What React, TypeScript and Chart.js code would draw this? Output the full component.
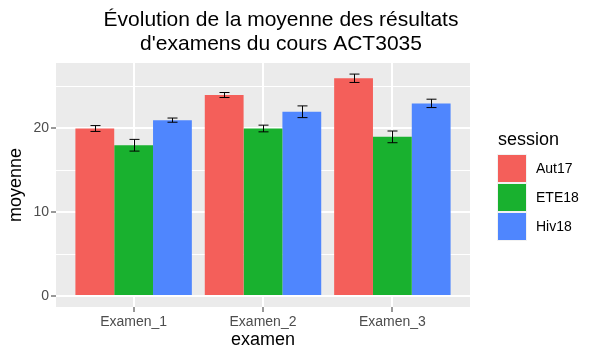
import React, { useEffect, useRef } from 'react';
import { Chart, registerables } from 'chart.js';

Chart.register(...registerables);

const categories = ['Examen_1', 'Examen_2', 'Examen_3'];
const sessions = ['Aut17', 'ETE18', 'Hiv18'];
const aut17 = [20, 24, 26];
const ete18 = [18, 20, 19];
const hiv18 = [21, 22, 23];
const aut17Err = [0.35, 0.3, 0.5];
const ete18Err = [0.7, 0.4, 0.7];
const hiv18Err = [0.25, 0.7, 0.5];
const yLabelTicks = [0, 10, 20];
const titleLines = ['Évolution de la moyenne des résultats', "d'examens du cours ACT3035"];
const legendTitle = 'session';
const xTitle = 'examen';
const yTitle = 'moyenne';
const colors = ['#F45F5A', '#19B12F', '#4F86FE'];

const FONT = '"Liberation Sans", Arial, Helvetica, sans-serif';

const seriesValues = [aut17, ete18, hiv18];
const seriesErrors = [aut17Err, ete18Err, hiv18Err];

const panelPlugin = {
  id: 'panelBg',
  beforeDraw(chart: any) {
    const { ctx, chartArea } = chart;
    ctx.save();
    ctx.fillStyle = '#FFFFFF';
    ctx.fillRect(0, 0, chart.width, chart.height);
    ctx.fillStyle = '#EBEBEB';
    ctx.fillRect(chartArea.left, chartArea.top, chartArea.right - chartArea.left, chartArea.bottom - chartArea.top);
    ctx.restore();
  },
};

const errorBarPlugin = {
  id: 'errorBars',
  afterDatasetsDraw(chart: any) {
    const { ctx } = chart;
    const yScale = chart.scales.y;
    ctx.save();
    ctx.strokeStyle = '#000000';
    ctx.lineWidth = 1;
    chart.data.datasets.forEach((ds: any, d: number) => {
      const meta = chart.getDatasetMeta(d);
      meta.data.forEach((el: any, i: number) => {
        const v = seriesValues[d][i];
        const e = seriesErrors[d][i];
        const x = Math.round(el.x) + 0.5;
        const yt = yScale.getPixelForValue(v + e);
        const yb = yScale.getPixelForValue(v - e);
        const hw = 5;
        ctx.beginPath();
        ctx.moveTo(x, yt);
        ctx.lineTo(x, yb);
        ctx.moveTo(x - hw, yt);
        ctx.lineTo(x + hw, yt);
        ctx.moveTo(x - hw, yb);
        ctx.lineTo(x + hw, yb);
        ctx.stroke();
      });
    });
    ctx.restore();
  },
};

const titleLegendPlugin = {
  id: 'titleLegend',
  afterDraw(chart: any) {
    const { ctx } = chart;
    ctx.save();
    ctx.fillStyle = '#000000';
    ctx.font = `21px ${FONT}`;
    ctx.textAlign = 'center';
    ctx.textBaseline = 'alphabetic';
    ctx.fillText(titleLines[0], 281, 26);
    ctx.fillText(titleLines[1], 281, 50);
    ctx.textAlign = 'left';
    ctx.font = `18px ${FONT}`;
    ctx.fillText(legendTitle, 498, 145);
    ctx.font = `14px ${FONT}`;
    ctx.textBaseline = 'middle';
    chart.data.datasets.forEach((ds: any, i: number) => {
      const top = 155 + 29 * i;
      ctx.fillStyle = '#F2F2F2';
      ctx.fillRect(497, top - 1, 30, 29);
      ctx.fillStyle = ds.backgroundColor;
      ctx.fillRect(498, top, 28, 27);
      ctx.fillStyle = '#000000';
      ctx.fillText(ds.label, 536, top + 14);
    });
    ctx.restore();
  },
};

export default function App() {
  const canvasRef = useRef<HTMLCanvasElement | null>(null);

  useEffect(() => {
    document.body.style.margin = '0';
    const canvas = canvasRef.current;
    if (!canvas) return;
    const datasets = sessions.map((s, d) => ({
      label: s,
      data: seriesValues[d].map((v, i) => ({ x: i + 1, y: v })),
      backgroundColor: colors[d],
      borderWidth: 0,
      categoryPercentage: 0.9,
      barPercentage: 1.0,
    }));
    const chart = new Chart(canvas, {
      type: 'bar',
      data: { datasets },
      plugins: [panelPlugin, errorBarPlugin, titleLegendPlugin],
      options: {
        responsive: false,
        devicePixelRatio: 1,
        animation: false,
        layout: { padding: { top: 63, right: 130, left: 0, bottom: 0 } },
        plugins: {
          legend: { display: false },
          title: { display: false },
          tooltip: { enabled: false },
        },
        scales: {
          x: {
            type: 'linear',
            min: 0.4,
            max: 3.6,
            offset: false,
            afterFit(scale: any) {
              scale.height = 53;
            },
            ticks: {
              stepSize: 1,
              includeBounds: false,
              autoSkip: false,
              maxRotation: 0,
              padding: 2,
              color: '#4D4D4D',
              font: { family: FONT, size: 14 },
              callback: (v: any) => categories[Math.round(Number(v)) - 1] ?? '',
            },
            grid: {
              offset: false,
              color: '#FFFFFF',
              lineWidth: 2,
              tickColor: '#333333',
              tickLength: 5,
              tickWidth: 1,
              drawTicks: true,
            },
            border: { display: false },
            title: {
              display: true,
              text: xTitle,
              color: '#000000',
              font: { family: FONT, size: 18 },
              padding: { top: 0, bottom: 9 },
            },
          },
          y: {
            type: 'linear',
            min: -1.325,
            max: 27.825,
            afterFit(scale: any) {
              scale.width = 56;
            },
            ticks: {
              stepSize: 5,
              includeBounds: false,
              padding: 2,
              color: '#4D4D4D',
              font: { family: FONT, size: 14 },
              callback: (v: any) => (yLabelTicks.includes(Number(v)) ? String(v) : ''),
            },
            grid: {
              color: '#FFFFFF',
              lineWidth: (ctx: any) => (ctx.tick && yLabelTicks.includes(ctx.tick.value) ? 2 : 1),
              tickColor: (ctx: any) => (ctx.tick && yLabelTicks.includes(ctx.tick.value) ? '#333333' : 'rgba(0,0,0,0)'),
              tickLength: 5,
              tickWidth: 1,
            },
            border: { display: false },
            title: {
              display: true,
              text: yTitle,
              color: '#000000',
              font: { family: FONT, size: 18 },
              padding: { top: 5, bottom: 0 },
            },
          },
        },
      } as any,
    });
    return () => chart.destroy();
  }, []);

  return (
    <div style={{ width: 600, height: 360 }}>
      <canvas ref={canvasRef} width={600} height={360} style={{ display: 'block' }} />
    </div>
  );
}
